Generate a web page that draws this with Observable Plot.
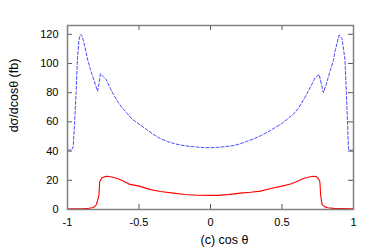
<!DOCTYPE html>
<html>
<head>
<meta charset="utf-8">
<script src="https://cdn.jsdelivr.net/npm/d3@7"></script>
<script src="https://cdn.jsdelivr.net/npm/@observablehq/plot@0.6"></script>
<style>
  html, body { margin: 0; padding: 0; background: #fff; }
</style>
</head>
<body>
<div id="chart"></div>
<script>
const xTicks = [-1, -0.5, 0, 0.5, 1];
const xTickLabels = ["-1", "-0.5", "0", "0.5", "1"];
const yTicks = [0, 20, 40, 60, 80, 100, 120];
const xLabel = "(c) cos θ";
const yLabel = "dσ/dcosθ (fb)";

const blueX = [-1.00, -0.97, -0.96, -0.95, -0.94, -0.93, -0.92, -0.91, -0.90, -0.89, -0.88, -0.86, -0.84, -0.82, -0.80, -0.79, -0.78, -0.77, -0.75, -0.73, -0.70, -0.68, -0.65, -0.62, -0.58, -0.55, -0.50, -0.45, -0.40, -0.35, -0.30, -0.25, -0.20, -0.15, -0.10, -0.05, 0.00, 0.05, 0.10, 0.15, 0.20, 0.25, 0.30, 0.35, 0.40, 0.45, 0.50, 0.55, 0.58, 0.62, 0.66, 0.70, 0.73, 0.76, 0.77, 0.79, 0.81, 0.84, 0.86, 0.87, 0.89, 0.90, 0.91, 0.92, 0.93, 0.94, 0.95, 0.96, 0.965, 0.97, 1.00];
const blueY = [40.5, 41, 43, 60, 80, 104, 116, 120, 119, 116, 112, 103, 96, 90, 84, 81, 86, 93, 91, 89, 83, 79, 74, 70, 65.5, 62, 58.5, 55, 51.5, 48.5, 46.5, 45, 44, 43.3, 42.8, 42.4, 42.3, 42.6, 43, 43.6, 44.8, 46.5, 48.3, 50.5, 53, 56, 59, 63, 65.3, 70, 76.8, 84, 90, 92.5, 88, 80, 86, 96, 102, 108, 116, 119.5, 118, 117, 110, 103, 80, 55, 42, 40.5, 40.5];

const redX = [-1.00, -0.90, -0.85, -0.82, -0.80, -0.79, -0.78, -0.775, -0.76, -0.74, -0.72, -0.69, -0.65, -0.60, -0.57, -0.50, -0.42, -0.35, -0.26, -0.18, -0.09, 0.00, 0.05, 0.12, 0.21, 0.28, 0.35, 0.43, 0.50, 0.56, 0.60, 0.65, 0.69, 0.72, 0.74, 0.755, 0.765, 0.77, 0.78, 0.80, 0.82, 0.86, 0.91, 1.00];
const redY = [0.4, 0.5, 0.8, 1.4, 3, 6, 10, 19, 21.5, 22.5, 22.8, 22.3, 21.2, 19, 17.4, 16, 13.6, 12.3, 11.2, 10.3, 9.8, 9.7, 9.7, 10.2, 11.2, 11.8, 12.6, 14.5, 16, 17.5, 19, 21.2, 22.3, 22.8, 22.5, 21, 19, 10, 3.5, 1.8, 1.2, 0.8, 0.6, 0.4];

const blue = blueX.map((x, i) => ({x, y: blueY[i]}));
const red = redX.map((x, i) => ({x, y: redY[i]}));
const fmtX = d => xTickLabels[xTicks.indexOf(d)];

const W = 392, H = 251, ML = 67, MR = 39, MT = 25, MB = 42, TL = 5;
const FW = W - ML - MR, FH = H - MT - MB;
const tickStyle = {stroke: "#555", strokeWidth: 1};

const chart = Plot.plot({
  width: W,
  height: H,
  marginLeft: ML,
  marginRight: MR,
  marginTop: MT,
  marginBottom: MB,
  style: {fontFamily: "'Liberation Sans', Arial, sans-serif", fontSize: "11px", background: "#fff", color: "#000"},
  x: {domain: [-1, 1]},
  y: {domain: [0, 126]},
  marks: [
    Plot.line(blue, {x: "x", y: "y", stroke: "#4a4aff", strokeWidth: 1, strokeDasharray: "3,2"}),
    Plot.line(red, {x: "x", y: "y", stroke: "#ff0000", strokeWidth: 1.1}),
    Plot.axisX(xTicks, {anchor: "bottom", tickSize: 0, tickPadding: 9, tickFormat: fmtX, label: null}),
    Plot.axisY(yTicks, {anchor: "left", tickSize: 0, tickPadding: 9, label: null}),
    Plot.ruleX(xTicks, {x: d => d, insetTop: FH - TL, ...tickStyle}),
    Plot.ruleX(xTicks, {x: d => d, insetBottom: FH - TL, ...tickStyle}),
    Plot.ruleY(yTicks, {y: d => d, insetRight: FW - TL, ...tickStyle}),
    Plot.ruleY(yTicks, {y: d => d, insetLeft: FW - TL, ...tickStyle}),
    Plot.frame({stroke: "#808080", strokeWidth: 1.5}),
    Plot.text([xLabel], {text: d => d, frameAnchor: "bottom", dx: 14, dy: 34, fontSize: 12.5}),
    Plot.text([yLabel], {text: d => d, frameAnchor: "left", textAnchor: "middle", rotate: -90, dx: -54, dy: -22, fontSize: 12.5})
  ]
});
document.getElementById("chart").appendChild(chart);
</script>
</body>
</html>
